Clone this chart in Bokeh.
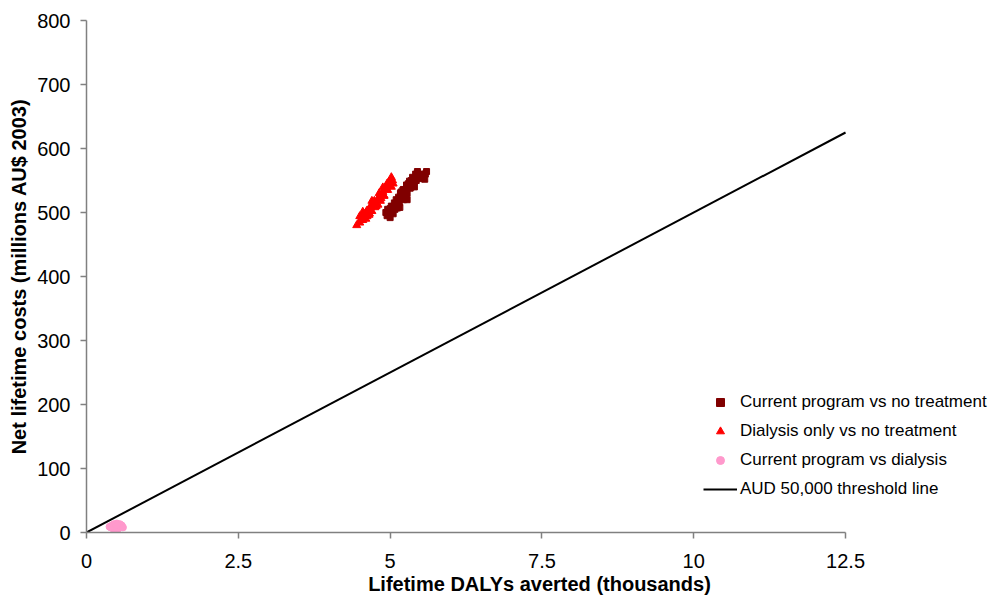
from bokeh.plotting import figure
from bokeh.models import Range1d, Legend, LegendItem, FixedTicker
from bokeh.embed import file_html
from bokeh.resources import INLINE

# Data (thousands of DALYs averted, millions AU$ 2003)
cur_vs_none_x = [4.95, 5.00, 4.98, 5.03, 5.05, 5.08, 5.02, 5.10, 5.12, 5.07, 5.15, 5.14, 5.18, 5.20,
                 5.17, 5.22, 5.24, 5.26, 5.21, 5.28, 5.30, 5.27, 5.33, 5.35, 5.32, 5.38, 5.40, 5.37,
                 5.43, 5.45, 5.48, 5.42, 5.52, 5.55, 5.50, 5.25, 5.12, 5.35,
                 4.96, 5.05, 5.10, 5.16, 5.18, 5.28, 5.30, 5.40, 5.45, 5.58, 5.60, 5.35, 5.22,
                 5.00, 4.93, 5.57]
cur_vs_none_y = [495, 492, 502, 500, 508, 505, 510, 512, 518, 515, 515, 524, 522, 528,
                 530, 520, 532, 536, 535, 530, 540, 543, 538, 546, 549, 545, 552, 555,
                 550, 556, 558, 560, 560, 556, 553, 525, 507, 540,
                 505, 498, 520, 508, 532, 520, 545, 540, 564, 560, 564, 550, 536,
                 506, 500, 552]

dial_vs_none_x = [4.45, 4.50, 4.52, 4.55, 4.58, 4.60, 4.62, 4.65, 4.68, 4.70, 4.72, 4.75, 4.77, 4.80,
                  4.82, 4.84, 4.86, 4.88, 4.90, 4.92, 4.94, 4.96, 4.98, 5.00, 5.02, 5.04, 4.56, 4.66,
                  4.74, 4.85, 4.95, 4.62,
                  4.50, 4.60, 4.68, 4.75, 4.82, 4.90, 4.98, 5.05, 4.55, 4.70, 4.88, 5.02, 4.65, 4.80]
dial_vs_none_y = [480, 484, 490, 488, 495, 500, 494, 505, 508, 502, 512, 515, 510, 520,
                  525, 518, 528, 532, 526, 536, 540, 535, 543, 546, 540, 550, 498, 498,
                  518, 522, 545, 503,
                  494, 490, 510, 508, 530, 526, 548, 545, 501, 518, 539, 555, 496, 512]

cur_vs_dial_x = [0.40, 0.44, 0.48, 0.52, 0.56, 0.58, 0.55, 0.50, 0.45, 0.42, 0.47, 0.52, 0.50, 0.44,
                 0.55, 0.60, 0.38, 0.49]
cur_vs_dial_y = [8, 6, 5, 6, 8, 11, 13, 14, 13, 11, 9, 10, 7, 10, 10, 8, 9, 12]

threshold_x = [0, 12.5]
threshold_y = [0, 625]

x_ticks = [0, 2.5, 5, 7.5, 10, 12.5]
x_tick_labels = {0: "0", 2.5: "2.5", 5: "5", 7.5: "7.5", 10: "10", 12.5: "12.5"}
y_ticks = [0, 100, 200, 300, 400, 500, 600, 700, 800]

FONT = "Liberation Sans"

p = figure(width=992, height=597, output_backend="svg", toolbar_location=None,
           x_range=Range1d(0, 14.92), y_range=Range1d(0, 800),
           min_border_left=86, min_border_right=0, min_border_top=20, min_border_bottom=65)
p.outline_line_color = None
p.xgrid.visible = False
p.ygrid.visible = False
p.background_fill_color = "white"

r_line = p.line(threshold_x, threshold_y, line_color="black", line_width=2)
r_sq = p.scatter(cur_vs_none_x, cur_vs_none_y, marker="square", size=6,
                 fill_color="#800000", line_color="#800000")
r_tri = p.scatter(dial_vs_none_x, dial_vs_none_y, marker="triangle", size=8,
                  fill_color="#FF0000", line_color="#FF0000")
r_cir = p.scatter(cur_vs_dial_x, cur_vs_dial_y, marker="circle", size=7,
                  fill_color="#FF99CC", line_color="#FF99CC")

for ax in (p.xaxis[0], p.yaxis[0]):
    ax.axis_line_color = "#808080"
    ax.axis_line_width = 1.5
    ax.major_tick_line_color = "#808080"
    ax.major_tick_line_width = 1.5
    ax.major_tick_out = 6
    ax.major_tick_in = 0
    ax.minor_tick_out = 0
    ax.minor_tick_in = 0
    ax.major_label_text_font = FONT
    ax.major_label_text_font_size = "20px"
    ax.major_label_text_color = "black"
    ax.axis_label_text_font = FONT
    ax.axis_label_text_font_size = "20px"
    ax.axis_label_text_font_style = "bold"
    ax.axis_label_text_color = "black"

p.xaxis[0].ticker = FixedTicker(ticks=x_ticks)
p.xaxis[0].major_label_overrides = x_tick_labels
p.xaxis[0].bounds = (0, 12.5)
p.xaxis[0].axis_label = "Lifetime DALYs averted (thousands)"
p.xaxis[0].major_label_standoff = 15
p.xaxis[0].axis_label_standoff = 2

p.yaxis[0].ticker = FixedTicker(ticks=y_ticks)
p.yaxis[0].axis_label = "Net lifetime costs (millions AU$ 2003)"
p.yaxis[0].major_label_standoff = 10
p.yaxis[0].axis_label_standoff = 4

legend = Legend(items=[
    LegendItem(label="Current program vs no treatment", renderers=[r_sq]),
    LegendItem(label="Dialysis only vs no treatment", renderers=[r_tri]),
    LegendItem(label="Current program vs dialysis", renderers=[r_cir]),
    LegendItem(label="AUD 50,000 threshold line", renderers=[r_line]),
], location=(617, 33))
legend.border_line_color = None
legend.background_fill_alpha = 0
legend.padding = 0
legend.margin = 0
legend.spacing = 9
legend.glyph_width = 34
legend.glyph_height = 20
legend.label_height = 20
legend.label_standoff = 3
legend.label_text_font = FONT
legend.label_text_font_size = "17px"
legend.label_text_color = "black"
p.add_layout(legend, "center")

open("out.html", "w").write(file_html(p, INLINE))
